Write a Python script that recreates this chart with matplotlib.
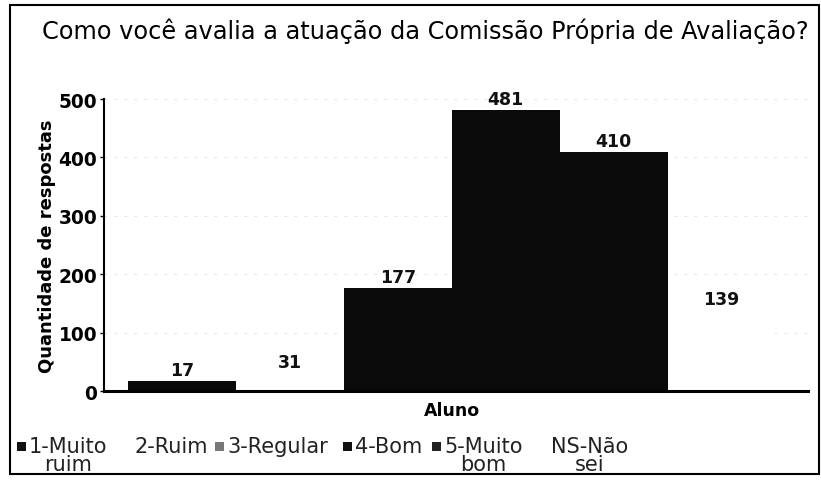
import matplotlib.pyplot as plt
from matplotlib.patches import Rectangle

# Respostas por conceito
categorias = ["1-Muito\nruim", "2-Ruim", "3-Regular", "4-Bom", "5-Muito\nbom", "NS-Não\nsei"]
respostas = [17, 31, 177, 481, 410, 139]
cores = ["#0a0a0a", "#ffffff", "#0a0a0a", "#0a0a0a", "#0a0a0a", "#ffffff"]
cores_legenda = ["#111111", "#ffffff", "#777777", "#111111", "#222222", "#ffffff"]
grupo = "Aluno"
y_ticks = [0, 100, 200, 300, 400, 500]

W, H = 821, 481
fig = plt.figure(figsize=(W / 100, H / 100), dpi=100)
ax = fig.add_axes([0.127, 0.185, 0.857, 0.607])

for t in y_ticks[1:]:
    ax.axhline(t, color="#dcdcdc", lw=0.6, ls=(0, (3, 9)), zorder=0)

posicoes = list(range(len(respostas)))
barras = ax.bar(posicoes, respostas, width=1.0, color=cores, edgecolor="none", zorder=2)
for b, v in zip(barras, respostas):
    ax.text(b.get_x() + b.get_width() / 2, v + 3, str(v), ha="center", va="bottom",
            fontsize=12.5, fontweight="bold", color="#111111", zorder=3)

ax.set_xlim(-0.72, 5.8)
ax.set_ylim(0, 500)
ax.set_yticks(y_ticks)
ax.set_yticklabels([str(t) for t in y_ticks], fontsize=13.4, fontweight="bold")
ax.set_xticks([2.5])
ax.set_xticklabels([grupo], fontsize=12.5, fontweight="bold")
ax.tick_params(axis="x", length=0, pad=7)
ax.tick_params(axis="y", length=3, width=1, pad=2)
ax.set_ylabel("Quantidade de respostas", fontsize=13, fontweight="bold", labelpad=2)

for lado in ["top", "right"]:
    ax.spines[lado].set_visible(False)
ax.spines["left"].set_linewidth(1.5)
ax.spines["bottom"].set_linewidth(2.2)

fig.text(425 / W, 1 - 31 / H,
         "Como você avalia a atuação da Comissão Própria de Avaliação?",
         ha="center", va="center", fontsize=17.3)

# legenda em uma linha abaixo do eixo (quadrado + rótulo)
leg_x = [17, 122, 215, 343, 432, 539]
leg_y = 1 - 447 / H
quad = 9
for x0, rot, cor in zip(leg_x, categorias, cores_legenda):
    fig.patches.append(Rectangle((x0 / W, leg_y - quad / 2 / H), quad / W, quad / H,
                                 transform=fig.transFigure, facecolor=cor, edgecolor="none"))
    fig.text((x0 + quad + 3) / W, leg_y + 10 / H, rot, ha="left", va="top",
             multialignment="center", fontsize=15, color="#222222", linespacing=0.88)

# moldura externa
fig.patches.append(Rectangle((0.012, 0.012), 0.985, 0.975, transform=fig.transFigure,
                             fill=False, edgecolor="black", linewidth=1.5))

fig.savefig("out.png", dpi=100)
